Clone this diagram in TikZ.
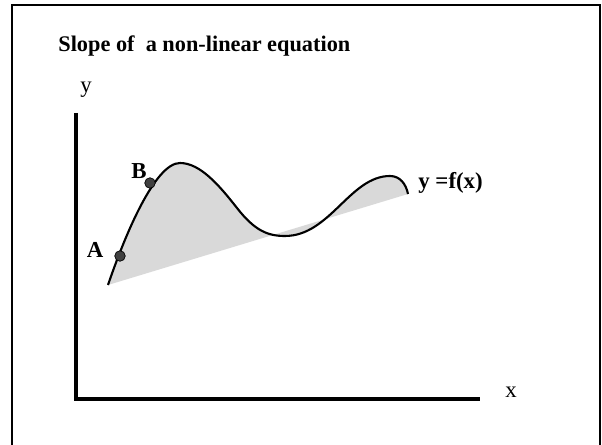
\documentclass[tikz,border=0pt]{standalone}
\usepackage{fontspec}
\setmainfont{Liberation Serif}

\begin{document}
\begin{tikzpicture}[
  x=0.02cm, y=-0.02cm,
  font=\fontsize{13}{15}\selectfont,
  frame/.style={draw, line width=1.2pt},
  axis/.style={draw, line width=2pt},
  curve/.style={draw, line width=1.2pt},
  area/.style={fill=black!15},
  dot/.style={circle, draw, fill=black!75, inner sep=0pt, minimum size=6pt},
  lbl/.style={inner sep=0pt, font=\fontsize{13}{15}\selectfont\bfseries}
]
  \useasboundingbox (0,0) rectangle (602,445);
  \draw[frame] (12,450) -- (12,5) -- (600,5) -- (600,450);

  \node[lbl, anchor=base west, font=\fontsize{12.7}{15}\selectfont\bfseries] (title) at (58,52) {Slope of\ \ a non-linear equation};

  % axes
  \coordinate (o)  at (76,399);
  \coordinate (yt) at (76,113);
  \coordinate (xe) at (480,399);
  \draw[axis] (yt) -- (o) -- (xe);
  \node[inner sep=0pt, anchor=base] (ylab) at (86,93)  {y};
  \node[inner sep=0pt, anchor=base] (xlab) at (511,398) {x};

  % curve and the area under its chord
  \newcommand\fcurve{(108,285) .. controls (125,235) and (155,163) .. (180,163)
    .. controls (200,163) and (219,185) .. (237,208)
    .. controls (255,231) and (268,236) .. (285,236)
    .. controls (330,236) and (350,176) .. (390,176)
    .. controls (400,176) and (406,184) .. (408,194)}
  \fill[area] \fcurve -- cycle;
  \draw[curve] \fcurve;

  \node[dot] (a) at (120,256) {};
  \node[dot] (b) at (150,183) {};
  \node[lbl] (alab) at (95,250) {A};
  \node[lbl] (blab) at (139,171) {B};
  \node[lbl, anchor=west] (flab) at (418,183) {y =f(x)};
\end{tikzpicture}
\end{document}
